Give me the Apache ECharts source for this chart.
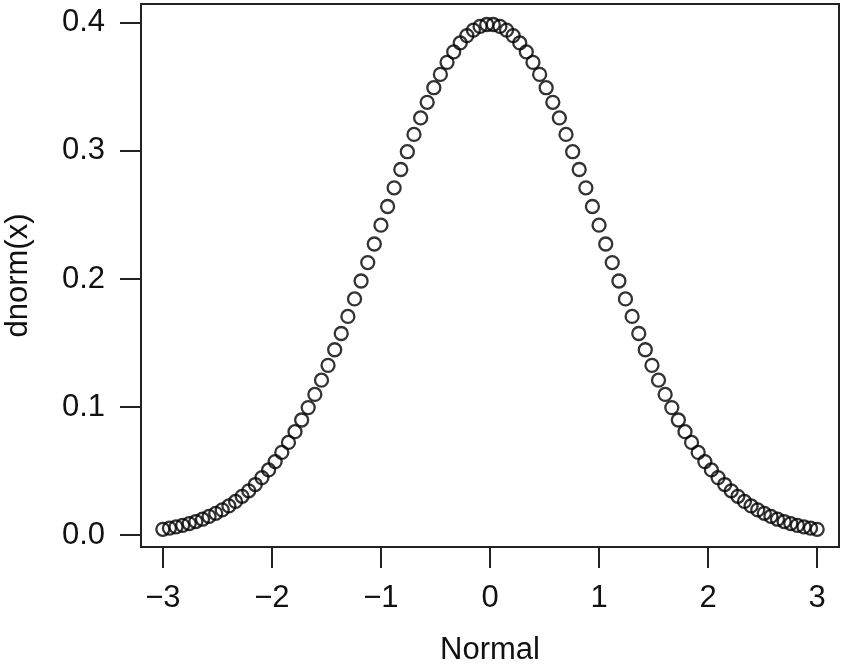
<!DOCTYPE html>
<html>
<head>
<meta charset="utf-8">
<script src="https://cdn.jsdelivr.net/npm/echarts@6/dist/echarts.min.js"></script>
<style>html,body{margin:0;padding:0;background:#fff;}#c{width:842px;height:667px;}</style>
</head>
<body>
<div id="c"></div>
<script>
const xValues = [-3.000,-2.939,-2.879,-2.818,-2.758,-2.697,-2.636,-2.576,-2.515,-2.455,
  -2.394,-2.333,-2.273,-2.212,-2.152,-2.091,-2.030,-1.970,-1.909,-1.848,
  -1.788,-1.727,-1.667,-1.606,-1.545,-1.485,-1.424,-1.364,-1.303,-1.242,
  -1.182,-1.121,-1.061,-1.000,-0.939,-0.879,-0.818,-0.758,-0.697,-0.636,
  -0.576,-0.515,-0.455,-0.394,-0.333,-0.273,-0.212,-0.152,-0.091,-0.030,
  0.030,0.091,0.152,0.212,0.273,0.333,0.394,0.455,0.515,0.576,
  0.636,0.697,0.758,0.818,0.879,0.939,1.000,1.061,1.121,1.182,
  1.242,1.303,1.364,1.424,1.485,1.545,1.606,1.667,1.727,1.788,
  1.848,1.909,1.970,2.030,2.091,2.152,2.212,2.273,2.333,2.394,
  2.455,2.515,2.576,2.636,2.697,2.758,2.818,2.879,2.939,3.000];
const yValues = [0.0044,0.0053,0.0063,0.0075,0.0089,0.0105,0.0123,0.0145,0.0169,0.0196,
  0.0227,0.0262,0.0302,0.0345,0.0394,0.0448,0.0508,0.0573,0.0645,0.0723,
  0.0807,0.0898,0.0995,0.1098,0.1209,0.1325,0.1447,0.1574,0.1707,0.1844,
  0.1984,0.2128,0.2273,0.2420,0.2566,0.2712,0.2855,0.2994,0.3129,0.3258,
  0.3380,0.3494,0.3598,0.3692,0.3774,0.3844,0.3901,0.3944,0.3973,0.3988,
  0.3988,0.3973,0.3944,0.3901,0.3844,0.3774,0.3692,0.3598,0.3494,0.3380,
  0.3258,0.3129,0.2994,0.2855,0.2712,0.2566,0.2420,0.2273,0.2128,0.1984,
  0.1844,0.1707,0.1574,0.1447,0.1325,0.1209,0.1098,0.0995,0.0898,0.0807,
  0.0723,0.0645,0.0573,0.0508,0.0448,0.0394,0.0345,0.0302,0.0262,0.0227,
  0.0196,0.0169,0.0145,0.0123,0.0105,0.0089,0.0075,0.0063,0.0053,0.0044];
const xTicks = [-3,-2,-1,0,1,2,3];
const yTicks = [0,0.1,0.2,0.3,0.4];
const xTickLabels = ['\u22123','\u22122','\u22121','0','1','2','3'];
const yTickLabels = ['0.0','0.1','0.2','0.3','0.4'];

const points = xValues.map((x,i)=>[x,yValues[i]]);
const FONT = 'Liberation Sans, Arial, Helvetica, sans-serif';
const INK = '#111';
const chart = echarts.init(document.getElementById('c'), null, {renderer:'canvas'});
chart.setOption({
  animation:false,
  backgroundColor:'#fff',
  grid:{left:141,right:3,top:4,bottom:120,outerBoundsMode:'none',containLabel:false,
    show:true,borderColor:'#222',borderWidth:2,backgroundColor:'transparent'},
  xAxis:{
    type:'value',min:-3.2,max:3.2,
    name:'Normal',nameLocation:'middle',nameGap:88,
    nameTextStyle:{fontFamily:FONT,fontSize:31,color:INK},
    axisLine:{show:false,onZero:false},
    splitLine:{show:false},
    axisTick:{show:true,length:21,inside:false,customValues:xTicks,lineStyle:{color:'#222',width:2}},
    axisLabel:{show:true,margin:36,customValues:xTicks,fontFamily:FONT,fontSize:31,color:INK,
      formatter:function(v){const i=xTicks.indexOf(Math.round(v));return i>=0?xTickLabels[i]:'';}}
  },
  yAxis:{
    type:'value',min:-0.0094,max:0.4148,
    name:'dnorm(x)',nameLocation:'middle',nameGap:107,
    nameTextStyle:{fontFamily:FONT,fontSize:31,color:INK},
    axisLine:{show:false,onZero:false},
    splitLine:{show:false},
    axisTick:{show:true,length:21,inside:false,customValues:yTicks,lineStyle:{color:'#222',width:2}},
    axisLabel:{show:true,margin:36,customValues:yTicks,fontFamily:FONT,fontSize:31,color:INK,
      formatter:function(v){const i=yTicks.findIndex(t=>Math.abs(t-v)<1e-6);return i>=0?yTickLabels[i]:'';}}
  },
  series:[{
    type:'scatter',
    data:points,
    symbol:'circle',
    symbolSize:13,
    itemStyle:{color:'rgba(0,0,0,0)',borderColor:'#000',borderWidth:2.3},
    silent:true
  }]
});
</script>
</body>
</html>
